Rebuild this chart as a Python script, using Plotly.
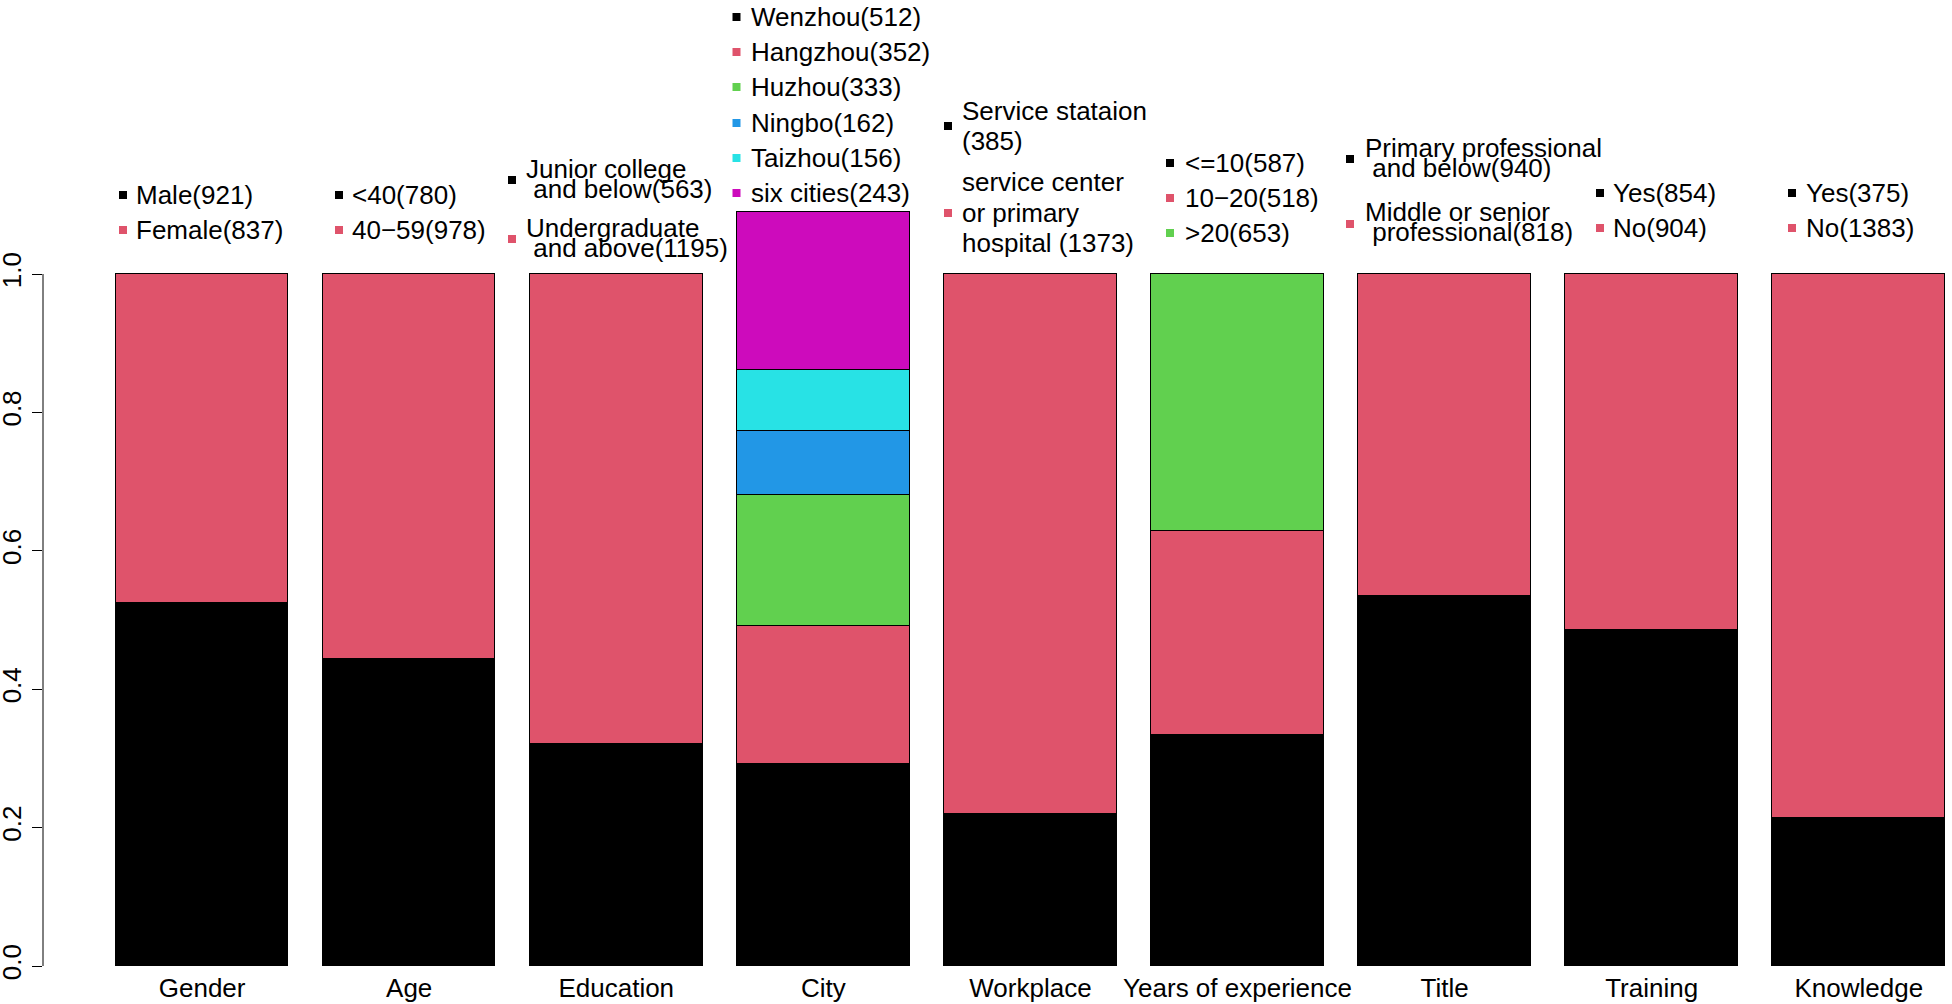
import plotly.graph_objects as go

# ---------------- data ----------------
categories = ["Gender", "Age", "Education", "City", "Workplace",
              "Years of experience", "Title", "Training", "Knowledge"]
total_n = 1758

gender_counts = [921, 837]
age_counts = [780, 978]
education_counts = [563, 1195]
city_counts = [512, 352, 333, 162, 156, 243]
# heights of the City segments as drawn (top segment reaches ~1.09 in the picture)
city_bar_counts = [512, 352, 333, 162, 156, 400]
workplace_counts = [385, 1373]
experience_counts = [587, 518, 653]
title_counts = [940, 818]
training_counts = [854, 904]
knowledge_counts = [375, 1383]

bar_counts = [gender_counts, age_counts, education_counts, city_bar_counts,
              workplace_counts, experience_counts, title_counts,
              training_counts, knowledge_counts]

palette = ["#000000", "#DF536B", "#61D04F", "#2297E6", "#28E2E5", "#CD0BBC"]

NB = "\u00a0"
legend_texts = [
    [[f"Male({gender_counts[0]})"], [f"Female({gender_counts[1]})"]],
    [[f"<40({age_counts[0]})"], [f"40\u221259({age_counts[1]})"]],
    [["Junior college", f"{NB}and below({education_counts[0]})"],
     ["Undergraduate", f"{NB}and above({education_counts[1]})"]],
    [[f"Wenzhou({city_counts[0]})"], [f"Hangzhou({city_counts[1]})"],
     [f"Huzhou({city_counts[2]})"], [f"Ningbo({city_counts[3]})"],
     [f"Taizhou({city_counts[4]})"], [f"six cities({city_counts[5]})"]],
    [["Service stataion", f"({workplace_counts[0]})"],
     ["service center", "or primary", f"hospital ({workplace_counts[1]})"]],
    [[f"<=10({experience_counts[0]})"], [f"10\u221220({experience_counts[1]})"],
     [f">20({experience_counts[2]})"]],
    [["Primary professional", f"{NB}and below({title_counts[0]})"],
     ["Middle or senior", f"{NB}professional({title_counts[1]})"]],
    [[f"Yes({training_counts[0]})"], [f"No({training_counts[1]})"]],
    [[f"Yes({knowledge_counts[0]})"], [f"No({knowledge_counts[1]})"]],
]

# ---------------- layout helpers (pixel placement of legend blocks) ----------------
W, H = 1952, 1004
ML, MB = 43, 38
X0_PX, X_UNIT = 81.3, 172.57   # pixel of x=0, pixels per unit
Y0_PX, Y_UNIT = 966.0, 692.0   # pixel of y=0, pixels per unit
x_range = [(ML - X0_PX) / X_UNIT, (W - X0_PX) / X_UNIT]
y_range = [0, Y0_PX / Y_UNIT]


def px2x(px):
    return (px - X0_PX) / X_UNIT


def py2y(py):
    return (Y0_PX - py) / Y_UNIT


# (marker px, text px, [(marker py, [line py ...]) ...])
legend_layout = [
    (123, 135, [(195, [195]), (230, [230])]),
    (339, 351, [(195, [195]), (230, [230])]),
    (512, 525, [(180, [169, 189]), (239, [228, 248])]),
    (736.5, 750, [(17, [17]), (52, [52]), (87, [87]), (123, [123]),
                  (158, [158]), (193, [193])]),
    (948, 961, [(126, [111, 141]), (213, [182, 213, 243])]),
    (1170, 1184, [(163, [163]), (198, [198]), (233, [233])]),
    (1350, 1364, [(159, [148, 168]), (224, [212, 232])]),
    (1600, 1612, [(193, [193]), (228, [228])]),
    (1792, 1805, [(193, [193]), (228, [228])]),
]

FONT = "Liberation Sans, Arial, sans-serif"
FS = 26

centers = [0.7 + 1.2 * i for i in range(len(categories))]
max_levels = max(len(c) for c in bar_counts)

fig = go.Figure()
for lvl in range(max_levels):
    ys = [(c[lvl] / total_n) if lvl < len(c) else None for c in bar_counts]
    fig.add_trace(go.Bar(
        x=centers, y=ys, width=1.0,
        marker=dict(color=palette[lvl], line=dict(color="black", width=1.5)),
        showlegend=False, hoverinfo="skip",
    ))

annotations = []
shapes = []
for texts, (mpx, tpx, entries) in zip(legend_texts, legend_layout):
    for lvl, (lines, (mpy, line_pys)) in enumerate(zip(texts, entries)):
        shapes.append(dict(
            type="rect", xref="x", yref="y",
            xsizemode="pixel", ysizemode="pixel",
            xanchor=px2x(mpx), yanchor=py2y(mpy),
            x0=-4, x1=4, y0=-4, y1=4,
            fillcolor=palette[lvl], line=dict(width=0),
        ))
        for line, lpy in zip(lines, line_pys):
            annotations.append(dict(
                x=px2x(tpx), y=py2y(lpy), xref="x", yref="y",
                text=line, showarrow=False, xanchor="left", yanchor="middle",
                font=dict(family=FONT, size=FS, color="black"), borderpad=0,
            ))

# y axis line from 0 to 1 (R style)
shapes.append(dict(type="line", xref="paper", yref="y", x0=0, x1=0, y0=0, y1=1,
                   line=dict(color="black", width=1)))

fig.update_layout(
    width=W, height=H,
    margin=dict(l=ML, r=0, t=0, b=MB, pad=0),
    paper_bgcolor="white", plot_bgcolor="white",
    barmode="stack", bargap=0,
    font=dict(family=FONT, size=FS, color="black"),
    xaxis=dict(range=x_range, tickvals=centers, ticktext=categories,
               showgrid=False, zeroline=False, showline=False, ticks="",
               automargin=False,
               ticklabelstandoff=4, tickfont=dict(family=FONT, size=FS, color="black")),
    yaxis=dict(range=y_range, tickvals=[0, 0.2, 0.4, 0.6, 0.8, 1.0],
               ticktext=["0.0", "0.2", "0.4", "0.6", "0.8", "1.0"],
               tickangle=-90, ticks="outside", ticklen=10, tickcolor="black",
               tickwidth=1, showgrid=False, zeroline=False, showline=False,
               automargin=False,
               ticklabelstandoff=1, tickfont=dict(family=FONT, size=FS, color="black")),
    annotations=annotations, shapes=shapes,
)

fig.write_html(
    "out.html",
    config={"displayModeBar": False},
    post_script="document.body.style.margin='0';document.body.style.overflow='hidden';",
)
